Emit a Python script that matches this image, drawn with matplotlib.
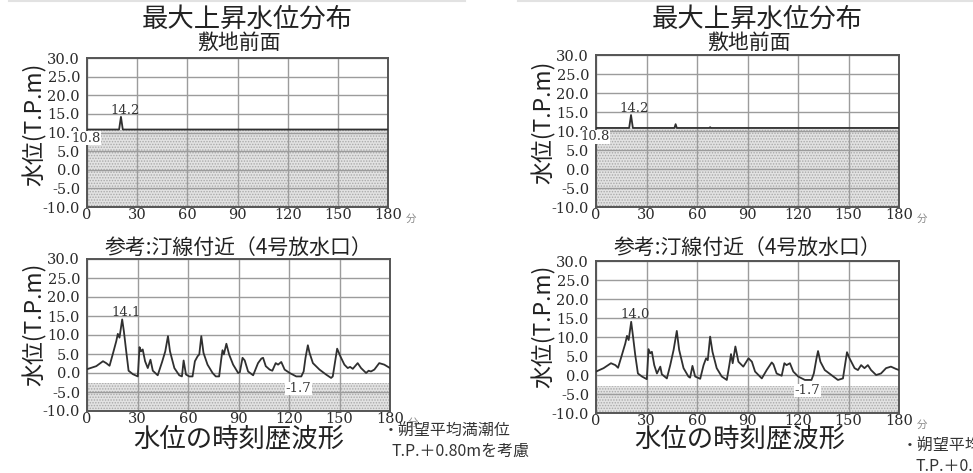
import matplotlib
matplotlib.use("Agg")
import matplotlib.pyplot as plt
import numpy as np

plt.rcParams['font.family'] = ['Noto Sans CJK JP', 'DejaVu Sans']
plt.rcParams['hatch.linewidth'] = 0.7

# ---- data ----
xticks = [0, 30, 60, 90, 120, 150, 180]
yticks = [-10, -5, 0, 5, 10, 15, 20, 25, 30]

# 敷地前面 (最大上昇水位)
front_level = 10.8
front_t_L = [0, 19.2, 20.3, 21.4, 180]
front_v_L = [10.8, 10.8, 14.2, 10.8, 10.8]
front_t_R = [0, 19.7, 20.8, 21.9, 46.6, 47.3, 48.0, 67.3, 67.8, 68.3, 180]
front_v_R = [10.8, 10.8, 14.2, 10.8, 10.8, 11.8, 10.8, 10.8, 11.0, 10.8, 10.8]
front_peak = [14.2, 14.2]

# 汀線付近 (4号放水口)
shore_level = [-2.7, -3.0]
shore_t_L = [0, 5.5, 9.5, 11.4, 13.4, 15.4, 17.4, 18.3, 19.3, 20.9, 21.9, 23.3,
             24.7, 27.2, 30.2, 31.2, 32.1, 33.1, 34.5, 36.1, 37.7, 39.1, 42.0,
             44.6, 46.5, 48.1, 49.3, 51.9, 54.8, 56.4, 57.4, 58.8, 60.7, 62.7,
             64.1, 65.7, 66.7, 67.9, 69.2, 71.6, 74.6, 76.5, 78.5, 79.7, 80.5,
             81.3, 82.8, 84.4, 86.8, 89.8, 90.8, 92.4, 93.7, 95.7, 98.7, 101.6,
             103.6, 104.6, 106.2, 108.5, 110.1, 112.1, 113.5, 115.4, 117.4,
             120.4, 124.3, 127.3, 128.7, 129.8, 131.2, 132.2, 134.2, 138.1,
             142.0, 145.0, 146.0, 148.6, 150.5, 152.9, 154.9, 156.3, 157.9,
             160.8, 162.8, 165.8, 167.3, 168.7, 170.7, 173.6, 176.6, 180]
shore_v_L = [1.0, 1.8, 3.1, 2.6, 1.9, 5.1, 8.4, 10.3, 9.3, 14.1, 11.0, 5.7,
             0.6, -0.3, -0.9, 6.8, 5.7, 6.2, 3.1, 1.3, 3.5, 0.6, -0.6,
             2.9, 5.7, 9.7, 5.7, 1.3, -0.6, -0.9, 3.3, -0.4, -0.9, -0.9,
             3.1, 4.4, 4.9, 9.7, 5.3, 2.2, 0.0, -0.9, -0.9, 3.5, 6.0,
             4.9, 7.7, 4.9, 2.2, 0.0, 0.2, 4.0, 3.3, 0.4, -0.6, 2.6,
             3.8, 4.0, 1.8, 0.9, 0.6, 2.6, 2.2, 2.9, 0.9,
             0.0, -0.9, -0.9, 0.4, 4.0, 7.3, 5.3, 2.6, 0.9,
             -0.4, -1.3, -0.9, 6.4, 4.4, 2.2, 1.3, 1.6, 1.1,
             2.6, 1.3, 0.0, 0.6, 0.4, 0.9, 2.6, 2.2, 1.3]
shore_t_R = [0, 4.5, 8.9, 11.5, 13.1, 15.4, 17.4, 18.4, 19.4, 20.9, 21.9, 23.3,
             24.9, 27.3, 30.2, 31.2, 32.2, 33.2, 34.6, 36.2, 38.2, 39.1, 42.1,
             44.1, 46.1, 48.0, 49.4, 52.0, 54.9, 55.9, 57.3, 58.9, 61.9, 63.9,
             65.4, 66.4, 67.8, 69.2, 71.7, 74.7, 77.7, 79.2, 80.2, 81.2, 82.8,
             84.6, 87.5, 90.6, 92.6, 94.5, 98.5, 101.4, 104.4, 105.4, 107.3,
             110.3, 111.9, 113.2, 115.2, 117.2, 120.1, 124.1, 128.0, 129.4,
             131.0, 131.9, 133.3, 135.9, 139.8, 143.7, 146.7, 149.1, 150.6,
             153.6, 155.6, 157.5, 159.5, 161.5, 163.4, 166.4, 169.3, 172.3,
             175.2, 178.2, 180]
shore_v_R = [0.9, 1.8, 3.1, 2.6, 1.9, 5.3, 8.3, 10.3, 9.2, 14.0, 10.5, 5.3,
             0.4, -0.4, -1.1, 6.8, 5.7, 6.1, 2.6, 0.4, 2.2, 0.2, -0.9,
             2.6, 6.6, 11.6, 6.6, 1.8, -0.4, -0.7, 2.4, -0.4, -1.0, 2.6,
             4.4, 3.9, 10.1, 6.1, 1.8, -0.4, -1.3, 2.6, 5.5, 3.1, 7.5,
             3.5, 2.2, 4.4, 3.5, 0.9, -0.9, 1.3, 3.3, 2.8, 0.4,
             -0.2, 3.1, 2.6, 3.1, 0.9, -0.4, -1.3, -1.3, 0.4,
             4.4, 6.3, 3.5, 1.3, 0.0, -1.3, -0.9, 6.0, 4.4,
             1.8, 1.3, 2.6, 1.8, 2.6, 1.3, 0.0, 0.4, 1.8,
             2.2, 1.6, 1.3]
shore_peak = [14.1, 14.0]
shore_min = -1.7

title_main = "最大上昇水位分布"
title_front = "敷地前面"
title_shore = "参考:汀線付近（4号放水口）"
title_wave = "水位の時刻歴波形"
ylab = "水位(T.P.m)"
note_1 = "・朔望平均満潮位"
note_2 = "T.P.＋0.80mを考慮"

# ---- fig ----
fig = plt.figure(figsize=(9.73, 4.73), dpi=100)
W, H = 973, 473


def make_ax(l, r, t, b, ly):
    ax = fig.add_axes([l / W, 1 - b / H, (r - l) / W, (b - t) / H])
    ax.set_xlim(0, 180)
    ax.set_ylim(-10, 30)
    ax.set_xticks(xticks)
    ax.set_yticks(yticks)
    ax.set_xticklabels([str(v) for v in xticks], family='DejaVu Serif',
                       fontsize=10.5, color='#2a2a2a')
    ax.set_yticklabels(["%.1f" % v for v in yticks], family='DejaVu Serif',
                       fontsize=10.5, color='#2a2a2a')
    ax.tick_params(length=0, pad=5)
    ax.tick_params(axis='x', pad=1)
    ax.grid(color='#9c9c9c', linewidth=1.0)
    for s in ax.spines.values():
        s.set_color('#555555')
        s.set_linewidth(1.4)
    ax.set_ylabel(ylab, fontsize=16.5, color='#222222')
    ax.yaxis.set_label_coords(-40 / (r - l), ly)
    ax.text(1 + 23 / (r - l), -12 / (b - t), "分", transform=ax.transAxes,
            fontsize=7.5, color='#888888', va='center', ha='center')
    return ax


def shade(ax, top):
    ax.fill_between([0, 180], -10, top, facecolor='#e2e2e2',
                    edgecolor='#a9a9a9', hatch='......', linewidth=0, zorder=1)


panels = [
    (87, 388, 58, 207, 87, 390, 259, 411, front_t_L, front_v_L, shore_t_L,
     shore_v_L, 0, 0, 383, 430, 8),
    (596, 899, 55, 207, 596, 899, 261, 413, front_t_R, front_v_R, shore_t_R,
     shore_v_R, 1, -8, 902, 445, 13),
]

for (l1, r1, t1, b1, l2, r2, t2, b2, ft, fv, st, sv, i, dx, nx, ny,
     ind) in panels:
    # 敷地前面
    ax = make_ax(l1, r1, t1, b1, 0.555)
    shade(ax, front_level)
    ax.plot(ft, fv, color='#303030', linewidth=1.3, zorder=3)
    ax.text(22.5, 16.0, "%.1f" % front_peak[i], family='DejaVu Serif',
            fontsize=9.5, color='#333333', ha='center', va='center')
    ax.text(-0.5, 8.5, "%.1f" % front_level, family='DejaVu Serif',
            fontsize=9.5, color='#333333', ha='center', va='center',
            clip_on=False, zorder=5,
            bbox=dict(facecolor='white', edgecolor='none', pad=0.3))
    cx = (l1 + r1) / 2
    fig.text((cx + 10) / W, 1 - 19 / H, title_main, fontsize=19, ha='center',
             va='center', color='#222222')
    fig.text((cx + 1) / W, 1 - 43 / H, title_front, fontsize=15, ha='center',
             va='center', color='#222222')

    # 汀線付近
    ax2 = make_ax(l2, r2, t2, b2, 0.57)
    shade(ax2, shore_level[i])
    ax2.plot(st, sv, color='#303030', linewidth=1.3, zorder=3)
    ax2.text(23.5, 16.0, "%.1f" % shore_peak[i], family='DejaVu Serif',
             fontsize=9.5, color='#333333', ha='center', va='center')
    ax2.text(125.5, -4.1, "%.1f" % shore_min, family='DejaVu Serif',
             fontsize=9.5, color='#333333', ha='center', va='center', zorder=5,
             bbox=dict(facecolor='white', edgecolor='none', pad=0.3))
    cx2 = (l2 + r2) / 2
    fig.text(cx2 / W, 1 - 248 / H, title_shore, fontsize=15,
             ha='center', va='center', color='#222222')
    fig.text((cx2 + dx) / W, 1 - 439 / H, title_wave, fontsize=19,
             ha='center', va='center', color='#222222')
    fig.text(nx / W, 1 - ny / H, note_1, fontsize=11.5, ha='left',
             va='center', color='#333333')
    fig.text((nx + ind) / W, 1 - (ny + 21) / H, note_2, fontsize=11.5,
             ha='left', va='center', color='#333333')

# light frame lines at top
fig.add_artist(plt.Line2D([9 / W, 465 / W], [1 - 1 / H, 1 - 1 / H],
                          color='#e2e2e2', linewidth=1.5))
fig.add_artist(plt.Line2D([518 / W, 1], [1 - 1 / H, 1 - 1 / H],
                          color='#e2e2e2', linewidth=1.5))

fig.savefig("out.png", dpi=100)
